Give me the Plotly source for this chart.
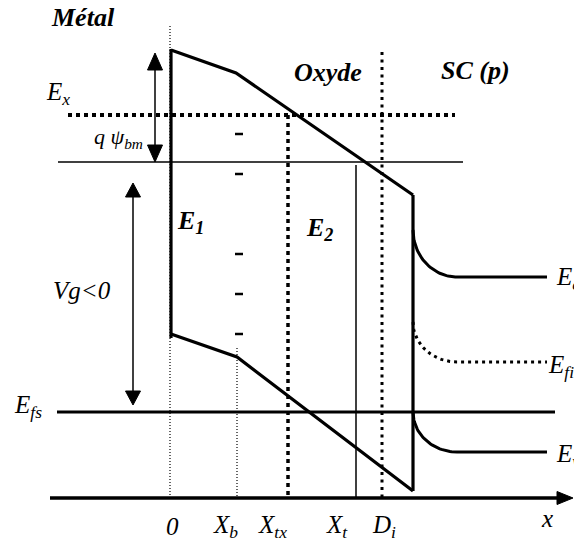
import numpy as np
import plotly.graph_objects as go

# ---------------- data (diagram units: x to the right, energy downward) ----------------
# positions along x of the marked abscissae
X_TICK_LABELS = ["0", "X<sub>b</sub>", "X<sub>tx</sub>", "X<sub>t</sub>", "D<sub>i</sub>"]
X_TICK_POS = [170, 237, 288, 356, 382]
X_TICK_LABEL_POS = [172, 225, 272, 337, 384]
X_SC = 413            # oxide / semiconductor interface
X_METAL = 171         # metal / oxide interface

# energy levels
E_X = 115
E_FM = 162
E_FS = 412

# oxide band edges (upper and lower), broken at X_b
UPPER_X = [171, 236, 413]
UPPER_Y = [50, 73, 195]
LOWER_X = [171, 237, 413]
LOWER_Y = [334, 357, 491]

# semiconductor bands: value at the surface, value in the bulk
EC_SURF, EC_BULK = 230, 277
EFI_SURF, EFI_BULK = 322, 362
EV_SURF, EV_BULK = 412, 452
BEND_END = 457
SC_END = 547

# negative charges in the oxide
MINUS_X = 239
MINUS_Y = [134, 174, 254, 294, 334]

W, H = 582, 539
PAGE_OFFSET = 8   # default page margin of the html body
fig = go.Figure()
BLACK = "black"


def line(xs, ys, width, dash="solid"):
    fig.add_trace(go.Scatter(x=xs, y=ys, mode="lines", hoverinfo="skip",
                             line=dict(color=BLACK, width=width, dash=dash),
                             showlegend=False))


def head(tip_x, tip_y, dx, dy, half):
    # filled triangular arrow head; (dx,dy) direction from base to tip * length
    bx, by = tip_x - dx, tip_y - dy
    n = np.hypot(dx, dy)
    px, py = -dy / n * half, dx / n * half
    fig.add_trace(go.Scatter(x=[tip_x, bx + px, bx - px, tip_x],
                             y=[tip_y, by + py, by - py, tip_y],
                             mode="lines", fill="toself", fillcolor=BLACK,
                             line=dict(color=BLACK, width=1), hoverinfo="skip",
                             showlegend=False))


def bend(y0, y1, n=40):
    t = np.linspace(0, np.pi / 2, n)
    xs = BEND_END - (BEND_END - X_SC) * np.cos(t)
    ys = y0 + (y1 - y0) * np.sin(t)
    return list(xs), list(ys)


# thin dotted guides
line([X_TICK_POS[0]] * 2, [26, 497], 1.2, "1px,2px")
line([X_TICK_POS[1]] * 2, [348, 497], 1.2, "1px,2px")
# X_tx thick dotted
line([X_TICK_POS[2]] * 2, [115, 497], 3.5, "4px,4px")
# X_t solid thin
line([X_TICK_POS[3]] * 2, [165, 497], 1.5)
# D_i dotted
line([X_TICK_POS[4]] * 2, [52, 497], 3, "3px,4.5px")

# E_x dotted
line([68, 455], [E_X, E_X], 4, "4px,4px")
# E_fm thin
line([58, 463], [E_FM, E_FM], 1.5)
# E_fs thick
line([57, 555], [E_FS, E_FS], 3)

# metal interface
line([X_METAL, X_METAL], [49, 338], 3.2)
# oxide bands
line(UPPER_X, UPPER_Y, 3.2)
line(LOWER_X, LOWER_Y, 3.2)
# SC interface
line([X_SC, X_SC], [UPPER_Y[-1], LOWER_Y[-1]], 3.2)

# semiconductor bands
bx, by = bend(EC_SURF, EC_BULK)
line(bx + [SC_END], by + [EC_BULK], 3)
bx, by = bend(EV_SURF, EV_BULK)
line(bx + [SC_END], by + [EV_BULK], 3)
bx, by = bend(EFI_SURF, EFI_BULK)
line(bx + [SC_END], by + [EFI_BULK], 3, "3px,4px")

# minus signs
mx, my = [], []
for y in MINUS_Y:
    mx += [MINUS_X - 4, MINUS_X + 4, None]
    my += [y, y, None]
line(mx, my, 2.5)

# x axis with arrow
line([50, 560], [498, 498], 3.5)
head(573, 498, 16, 0, 6.5)

# q psi_bm double arrow
line([155, 155], [62, 152], 1.5)
head(155, 53, 0, -17, 7.5)
head(155, 162, 0, 17, 7.5)
# Vg double arrow
line([133, 133], [190, 398], 1.5)
head(133, 183, 0, -14, 7.5)
head(133, 405, 0, 14, 7.5)

SERIF = "'Liberation Serif', 'Times New Roman', 'DejaVu Serif', serif"


def label(x, y, text, size=25, xanchor="left", bold=False):
    t = f"<i>{text}</i>"
    if bold:
        t = f"<b>{t}</b>"
    fig.add_annotation(x=x, y=y, text=t, showarrow=False, xref="x", yref="y",
                       xanchor=xanchor, yanchor="middle",
                       font=dict(family=SERIF, size=size, color=BLACK))


label(49, 17, "Métal", 26, bold=True)
label(292, 72, "Oxyde", 26, bold=True)
label(439, 70, "SC (p)", 26, bold=True)
label(175, 222, "E<sub>1</sub>", 26, bold=True)
label(304, 229, "E<sub>2</sub>", 26, bold=True)

label(44, 93, "E<sub>x</sub>")
label(92, 138, "q ψ<sub>bm</sub>", 22)
label(7, 166, "E<sub>fm</sub>")
label(51, 290, "Vg&lt;0")
label(12, 406, "E<sub>fs</sub>")
label(554, 278, "E<sub>c</sub>")
label(546, 366, "E<sub>fi</sub>")
label(554, 455, "E<sub>v</sub>")

for p, t in zip(X_TICK_LABEL_POS, X_TICK_LABELS):
    label(p, 526, t, xanchor="center")
label(547, 518, "x", xanchor="center")

fig.update_layout(
    width=W, height=H, autosize=False,
    margin=dict(l=0, r=0, t=0, b=0),
    paper_bgcolor="white", plot_bgcolor="white",
    xaxis=dict(range=[PAGE_OFFSET, W + PAGE_OFFSET], visible=False, fixedrange=True),
    yaxis=dict(range=[H + PAGE_OFFSET, PAGE_OFFSET], visible=False, fixedrange=True),
)
fig.write_html("out.html")
